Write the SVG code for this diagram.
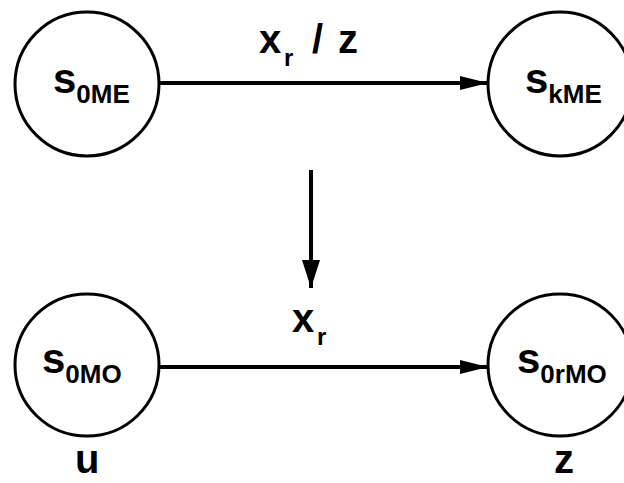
<svg xmlns="http://www.w3.org/2000/svg" width="624" height="483" viewBox="0 0 624 483">
<defs>
<style>
.node{fill:#fff;stroke:#000;stroke-width:3}
.edge{stroke:#000;stroke-width:4;fill:none}
.t{font-family:"Liberation Sans",Arial,sans-serif;font-weight:bold;fill:#000}
.big{font-size:42px}
.sub{font-size:26px}
.lbl{font-size:40px}
.lsub{font-size:24px}
</style>
<marker id="ah" viewBox="0 0 28 14" refX="28" refY="7" markerWidth="28" markerHeight="14" markerUnits="userSpaceOnUse" orient="auto">
<path d="M0,0 L28,7 L0,14 Z" fill="#000"/>
</marker>
<marker id="av" viewBox="0 0 28 18" refX="28" refY="9" markerWidth="28" markerHeight="18" markerUnits="userSpaceOnUse" orient="auto">
<path d="M0,0 L28,9 L0,18 Z" fill="#000"/>
</marker>
</defs>
<g id="connectors">
<line class="edge" x1="159" y1="83" x2="488" y2="83" marker-end="url(#ah)"/>
<line class="edge" x1="311" y1="170" x2="311" y2="288" marker-end="url(#av)"/>
<line class="edge" x1="159" y1="367" x2="488" y2="367" marker-end="url(#ah)"/>
<text class="t lbl" y="53"><tspan x="259">x</tspan><tspan class="lsub" x="284" y="66">r</tspan><tspan x="312" y="53">/</tspan><tspan x="338">z</tspan></text>
<text class="t lbl" y="332"><tspan x="292">x</tspan><tspan class="lsub" x="317" y="345">r</tspan></text>
</g>
<g id="s0ME">
<ellipse class="node" cx="87" cy="84" rx="72" ry="72"/>
<text class="t big" x="53" y="93">s<tspan class="sub" dy="10">0ME</tspan></text>
</g>
<g id="skME">
<ellipse class="node" cx="560" cy="84" rx="72" ry="72"/>
<text class="t big" x="525" y="93">s<tspan class="sub" dy="10">kME</tspan></text>
</g>
<g id="s0MO">
<ellipse class="node" cx="87" cy="365" rx="72" ry="71"/>
<text class="t big" x="42" y="373">s<tspan class="sub" dy="10">0MO</tspan></text>
</g>
<g id="s0rMO">
<ellipse class="node" cx="560" cy="365" rx="72" ry="71"/>
<text class="t big" x="517" y="373">s<tspan class="sub" dy="10">0rMO</tspan></text>
</g>
<text class="t lbl" x="75" y="473">u</text>
<text class="t lbl" x="554" y="473">z</text>
</svg>
